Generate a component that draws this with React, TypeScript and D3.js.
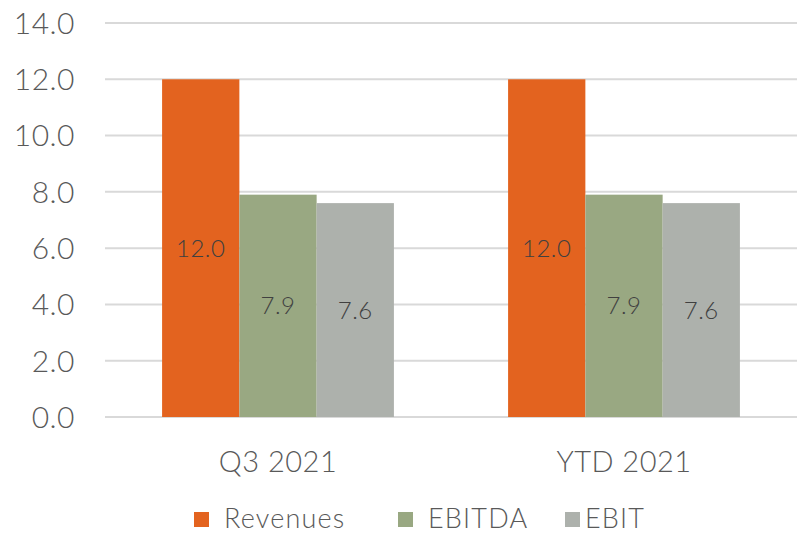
import React from "react";
import * as d3 from "d3";

const categories = ["Q3 2021", "YTD 2021"];
const seriesNames = ["Revenues", "EBITDA", "EBIT"];
const revenues = [12.0, 12.0];
const ebitda = [7.9, 7.9];
const ebit = [7.6, 7.6];
const yTicks = [0, 2, 4, 6, 8, 10, 12, 14];
const colors = ["#E3631F", "#99A882", "#ADB1AC"];

const W = 801;
const H = 536;
const FONT = "Lato, 'Open Sans', sans-serif";

export default function App() {
  const seriesValues = [revenues, ebitda, ebit];
  const left = 105;
  const right = 797;
  const y = d3.scaleLinear().domain([0, 14]).range([417, 23]);
  const x0 = d3.scaleBand<string>().domain(categories).range([left, right]).padding(0);
  const step = x0.step();
  const gap = step * 0.33;
  const x1 = d3
    .scaleBand<string>()
    .domain(seriesNames)
    .range([gap / 2, step - gap / 2])
    .padding(0);

  const legendItems = [
    { name: seriesNames[0], sx: 194, tx: 224 },
    { name: seriesNames[1], sx: 398, tx: 428 },
    { name: seriesNames[2], sx: 565, tx: 585 },
  ];

  return (
    <svg
      width={W}
      height={H}
      style={{ position: "absolute", left: 0, top: 0, background: "#fff" }}
      fontFamily={FONT}
      fontWeight={300}
    >
      {yTicks.map((t) => (
        <g key={t}>
          <line x1={left} x2={right} y1={y(t)} y2={y(t)} stroke="#D9D9D9" strokeWidth={2} />
          <text
            x={75}
            y={y(t)}
            dy="0.36em"
            textAnchor="end"
            fontSize={30}
            fill="#595959"
            letterSpacing={0.5}
          >
            {d3.format(".1f")(t)}
          </text>
        </g>
      ))}
      {categories.map((c, ci) => (
        <g key={c} transform={`translate(${x0(c)},0)`}>
          {seriesNames.map((s, si) => {
            const v = seriesValues[si][ci];
            const bx = x1(s)!;
            const bw = x1.bandwidth();
            return (
              <g key={s}>
                <rect x={bx} y={y(v)} width={bw} height={y(0) - y(v)} fill={colors[si]} />
                <text
                  x={bx + bw / 2}
                  y={(y(v) + y(0)) / 2}
                  dy="0.36em"
                  textAnchor="middle"
                  fontSize={24}
                  fill="#404040"
                  letterSpacing={0.5}
                >
                  {d3.format(".1f")(v)}
                </text>
              </g>
            );
          })}
          <text
            x={step / 2}
            y={472}
            textAnchor="middle"
            fontSize={29}
            fill="#595959"
            letterSpacing={0.5}
          >
            {c}
          </text>
        </g>
      ))}
      {legendItems.map((l, i) => (
        <g key={l.name}>
          <rect x={l.sx} y={512} width={15} height={15} fill={colors[i]} />
          <text x={l.tx} y={528} fontSize={27} fill="#595959" letterSpacing={1.2}>
            {l.name}
          </text>
        </g>
      ))}
    </svg>
  );
}
